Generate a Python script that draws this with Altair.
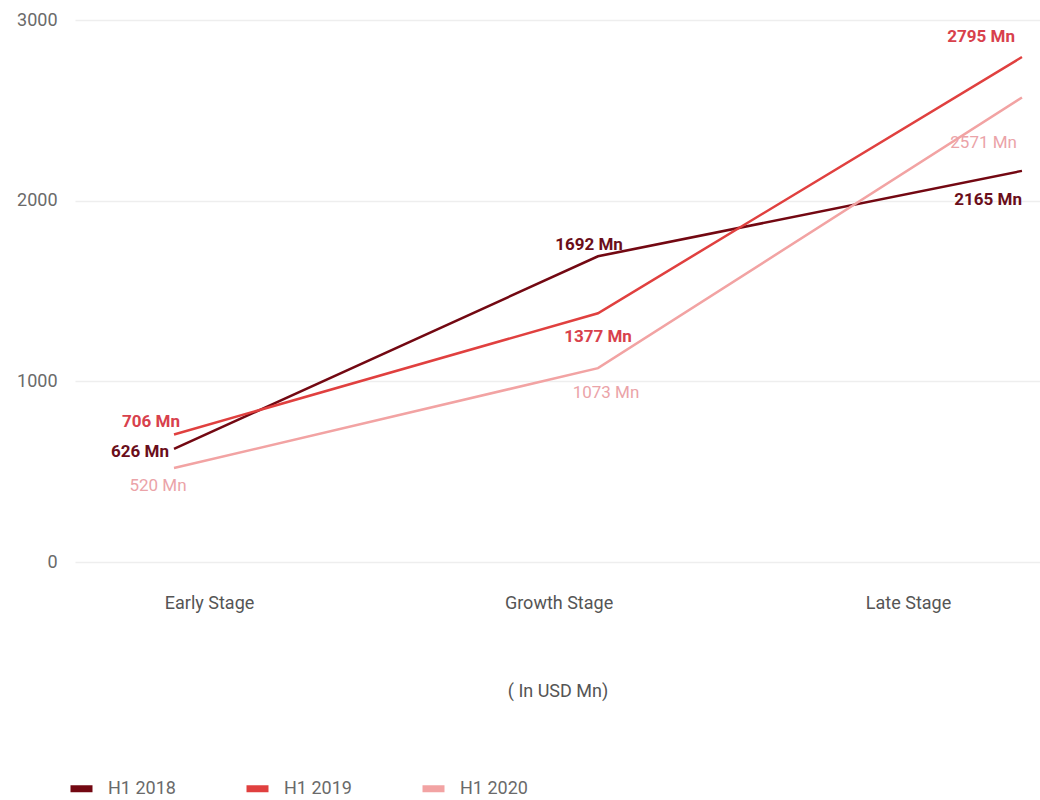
import altair as alt
import pandas as pd

stages = ["Early Stage", "Growth Stage", "Late Stage"]
series = ["H1 2018", "H1 2019", "H1 2020"]
v2018 = [626, 1692, 2165]
v2019 = [706, 1377, 2795]
v2020 = [520, 1073, 2571]

line_colors = ["#730812", "#e0403f", "#f2a3a3"]
text_colors = ["#6a0e1a", "#d8414c", "#eba3a8"]
text_weights = ["bold", "bold", "normal"]

# label placement styles: (align, dx, dy)
label_style = {
    ("H1 2018", "Early Stage"): ("right", -5, 3),
    ("H1 2018", "Growth Stage"): ("center", -9, -11),
    ("H1 2018", "Late Stage"): ("right", 0, 29),
    ("H1 2019", "Early Stage"): ("right", 6, -12),
    ("H1 2019", "Growth Stage"): ("center", 0, 24),
    ("H1 2019", "Late Stage"): ("right", -7, -20),
    ("H1 2020", "Early Stage"): ("center", -16, 18),
    ("H1 2020", "Growth Stage"): ("center", 8, 25),
    ("H1 2020", "Late Stage"): ("right", -5, 45),
}

rows = []
for s, vals in zip(series, [v2018, v2019, v2020]):
    for st, v in zip(stages, vals):
        rows.append({"series": s, "stage": st, "value": v, "label": f"{v} Mn"})
df = pd.DataFrame(rows)

FONT = "Roboto"
x_line_scale = alt.Scale(type="point", domain=stages, padding=0.138, align=0.846)
y_scale = alt.Scale(domain=[0, 3000])

base = alt.Chart(df)

lines = base.mark_line(strokeWidth=2.5).encode(
    x=alt.X("stage:N", scale=x_line_scale, axis=None),
    y=alt.Y("value:Q", scale=y_scale, title=None,
            axis=alt.Axis(values=[0, 1000, 2000, 3000], format="d", domain=False, ticks=False,
                          labelFontSize=18, labelColor="#6a6a6a", labelPadding=18,
                          labelFont=FONT, gridColor="#eeeeee", gridWidth=1.5)),
    color=alt.Color("series:N", scale=alt.Scale(domain=series, range=line_colors),
                    legend=alt.Legend(title=None, orient="none", legendX=-8, legendY=754,
                                      direction="horizontal", columns=3,
                                      symbolType="stroke", symbolStrokeWidth=7,
                                      symbolSize=484, labelFontSize=18,
                                      labelColor="#6a6a6a", labelFont=FONT,
                                      labelOffset=12, columnPadding=56)),
)

texts = []
for i, s in enumerate(series):
    for st in stages:
        align, dx, dy = label_style[(s, st)]
        t = base.transform_filter(
            (alt.datum.series == s) & (alt.datum.stage == st)
        ).mark_text(align=align, baseline="middle", dx=dx, dy=dy, fontSize=17,
                    font=FONT, fontWeight=text_weights[i], color=text_colors[i]).encode(
            x=alt.X("stage:N", scale=x_line_scale, axis=None),
            y=alt.Y("value:Q", scale=y_scale),
            text="label:N",
        )
        texts.append(t)

axis_df = pd.DataFrame({"stage": stages})
axis_layer = alt.Chart(axis_df).mark_point(opacity=0).encode(
    x=alt.X("stage:N", scale=alt.Scale(type="point", domain=stages, padding=0.3805, align=0.504),
            title="( In USD Mn)",
            axis=alt.Axis(domain=False, ticks=False, grid=False, labelAngle=0,
                          labelFontSize=18, labelColor="#555555", labelFont=FONT,
                          labelPadding=32, titleFontSize=18, titleColor="#555555",
                          titleFont=FONT, titleFontWeight="normal", titlePadding=70)),
)

chart = alt.layer(lines, *texts, axis_layer).resolve_scale(x="independent").properties(
    width=965, height=542,
    autosize=alt.AutoSizeParams(type="none"),
    padding={"left": 75, "top": 20, "right": 0, "bottom": 238},
    background="white",
).configure_view(stroke=None)

chart.save("out.html", embed_options={"renderer": "svg", "actions": False})
